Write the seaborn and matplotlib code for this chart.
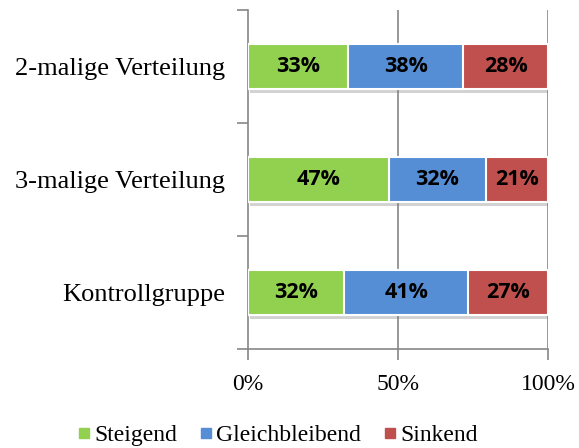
import matplotlib
matplotlib.use("Agg")
import matplotlib.pyplot as plt
import matplotlib.patheffects as pe
from matplotlib.lines import Line2D
import numpy as np
import pandas as pd
import seaborn as sns

# Share of pupils per group (percent)
groups = ["2-malige Verteilung", "3-malige Verteilung", "Kontrollgruppe"]
steigend = [33.4, 47.0, 32.1]
gleichbleibend = [38.4, 32.3, 41.3]
sinkend = [28.2, 20.7, 26.6]
series_names = ["Steigend", "Gleichbleibend", "Sinkend"]
colors = ["#92D050", "#558ED5", "#C0504D"]
x_ticks = [0, 50, 100]
x_tick_labels = ["0%", "50%", "100%"]

sns.set_theme(style="white")
plt.rcParams["font.family"] = ["Liberation Serif", "DejaVu Serif"]
plt.rcParams["text.color"] = "black"
plt.rcParams["xtick.labelcolor"] = "black"
plt.rcParams["ytick.labelcolor"] = "black"

df = pd.DataFrame({
    "group": groups,
    "Steigend": steigend,
    "Gleichbleibend": gleichbleibend,
    "Sinkend": sinkend,
})
df["c1"] = df["Steigend"]
df["c2"] = df["Steigend"] + df["Gleichbleibend"]
df["c3"] = df["c2"] + df["Sinkend"]

fig = plt.figure(figsize=(5.79, 4.48), dpi=100)
ax = fig.add_axes([248 / 579, 1 - 349 / 448, 300 / 579, 339 / 448])

bar_h = 0.39
shadow = [pe.SimplePatchShadow(offset=(1.5, -3), shadow_rgbFace="#7f7f7f", alpha=0.35), pe.Normal()]

# Stacked bars: draw cumulative totals back to front
for col, color, fx in [("c3", colors[2], shadow), ("c2", colors[1], None), ("c1", colors[0], None)]:
    sns.barplot(data=df, x=col, y="group", orient="h", color=color, width=bar_h,
                edgecolor="white", linewidth=1.5, ax=ax, saturation=1)
    if fx is not None:
        for p in ax.patches:
            p.set_path_effects(fx)
for p in ax.patches:
    p.set_zorder(3)

# Segment value labels
for i in range(len(groups)):
    lefts = [0, df["c1"][i], df["c2"][i]]
    vals = [steigend[i], gleichbleibend[i], sinkend[i]]
    for l, v in zip(lefts, vals):
        ax.text(l + v / 2, i, f"{round(v)}%", ha="center", va="center",
                fontsize=15.5, fontweight="bold", family=["Open Sans", "DejaVu Sans"],
                color="black", zorder=5)

ax.set_xlim(0, 100)
ax.set_ylim(2.5, -0.5)
ax.set_xticks(x_ticks)
ax.set_xticklabels(x_tick_labels, fontsize=17)
ax.set_yticks([-0.5, 0.5, 1.5, 2.5])
ax.set_yticklabels([])
ax.set_yticks([0, 1, 2], minor=True)
ax.set_yticklabels(groups, minor=True, fontsize=19)
ax.tick_params(axis="y", which="minor", length=0, pad=16.5)
ax.tick_params(axis="y", which="major", length=8, width=1.2, color="#868686", direction="out", left=True)
ax.tick_params(axis="x", length=8, width=1.2, color="#868686", direction="out", bottom=True, pad=10)
ax.set_xlabel("")
ax.set_ylabel("")

for v in [50, 100]:
    ax.axvline(v, color="#868686", linewidth=1.2, zorder=0.5)

for s in ["top", "right"]:
    ax.spines[s].set_visible(False)
for s in ["left", "bottom"]:
    ax.spines[s].set_color("#868686")
    ax.spines[s].set_linewidth(1.2)
    ax.spines[s].set_zorder(0.6)

handles = [Line2D([], [], marker="s", linestyle="none", markersize=7,
                  markerfacecolor=c, markeredgecolor=c) for c in colors]
fig.legend(handles, series_names, loc="center", bbox_to_anchor=(0.48, 1 - 435 / 448),
           ncol=3, frameon=False, fontsize=17, handlelength=0.5, handletextpad=0.2,
           columnspacing=0.95, borderaxespad=0)

fig.savefig("out.png", dpi=100)
